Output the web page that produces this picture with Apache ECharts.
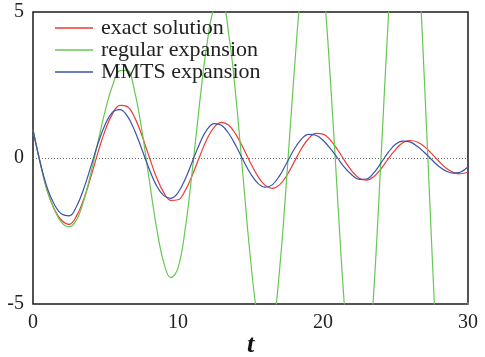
<!DOCTYPE html>
<html>
<head>
<meta charset="utf-8">
<script src="https://cdn.jsdelivr.net/npm/echarts@6/dist/echarts.min.js"></script>
<style>
  html, body { margin: 0; padding: 0; background: #fff; }
  #chart { width: 485px; height: 357px; }
</style>
</head>
<body>
<div id="chart"></div>
<script>
// sample times
const tValues = [
  0, 0.5, 1, 1.5, 2, 2.5, 3, 3.5, 4, 4.5,
  5, 5.5, 6, 6.5, 7, 7.5, 8, 8.5, 9, 9.5,
  10, 10.5, 11, 11.5, 12, 12.5, 13, 13.5, 14, 14.5,
  15, 15.5, 16, 16.5, 17, 17.5, 18, 18.5, 19, 19.5,
  20, 20.5, 21, 21.5, 22, 22.5, 23, 23.5, 24, 24.5,
  25, 25.5, 26, 26.5, 27, 27.5, 28, 28.5, 29, 29.5,
  30
];

const exactSolution = [
  0.96, -0.17, -1.15, -1.78, -2.15, -2.27, -1.99, -1.41, -0.63, 0.22,
  0.98, 1.53, 1.80, 1.76, 1.40, 0.79, 0.06, -0.64, -1.17, -1.45,
  -1.43, -1.11, -0.57, 0.06, 0.65, 1.06, 1.22, 1.12, 0.80, 0.34,
  -0.17, -0.62, -0.93, -1.04, -0.92, -0.60, -0.15, 0.31, 0.66, 0.84,
  0.82, 0.62, 0.29, -0.10, -0.45, -0.69, -0.76, -0.64, -0.37, -0.03,
  0.29, 0.52, 0.60, 0.55, 0.39, 0.15, -0.12, -0.35, -0.50, -0.54,
  -0.48
];

// goes far off the plot; the parts outside are clipped by the grid
const regularExpansion = [
  0.96, -0.18, -1.15, -1.80, -2.22, -2.36, -2.12, -1.46, -0.50, 0.60,
  1.66, 2.50, 2.99, 3.00, 2.30, 0.97, -0.69, -2.32, -3.55, -4.10,
  -3.77, -2.42, -0.37, 1.92, 3.91, 5.15, 5.33, 4.23, 2.06, -0.72,
  -3.46, -5.52, -6.47, -5.95, -3.85, -0.66, 2.85, 5.88, 7.69, 7.84,
  6.07, 2.76, -1.33, -5.23, -8.00, -9.00, -7.83, -4.58, -0.03, 4.76,
  8.64, 10.71, 10.40, 7.47, 2.60, -3.03, -8.05, -11.28, -11.88, -9.60,
  -4.94
];

const mmtsExpansion = [
  0.96, -0.16, -1.05, -1.62, -1.93, -1.98, -1.66, -1.05, -0.28, 0.52,
  1.17, 1.58, 1.66, 1.44, 0.95, 0.31, -0.36, -0.93, -1.28, -1.38,
  -1.19, -0.72, -0.11, 0.50, 0.97, 1.18, 1.12, 0.84, 0.41, -0.08,
  -0.53, -0.86, -1.00, -0.92, -0.61, -0.17, 0.29, 0.64, 0.81, 0.78,
  0.61, 0.33, 0.00, -0.33, -0.58, -0.73, -0.72, -0.51, -0.17, 0.19,
  0.47, 0.58, 0.55, 0.40, 0.19, -0.06, -0.29, -0.45, -0.52, -0.48,
  -0.31
];

const seriesNames = ['exact solution', 'regular expansion', 'MMTS expansion'];
const seriesColors = ['#ec3b35', '#66c852', '#3853ad'];

const font = 'Liberation Serif';

const pairs = (values) => tValues.map((t, i) => [t, values[i]]);

const chart = echarts.init(document.getElementById('chart'), null, { renderer: 'canvas' });

const lineSeries = [exactSolution, regularExpansion, mmtsExpansion].map((values, i) => {
  const s = {
    name: seriesNames[i],
    type: 'line',
    data: pairs(values),
    smooth: 0.4,
    showSymbol: false,
    symbol: 'none',
    clip: true,
    lineStyle: { color: seriesColors[i], width: 1.2 },
    itemStyle: { color: seriesColors[i] },
    z: 3,
  };
  if (i === 0) {
    s.markLine = {
      silent: true,
      symbol: ['none', 'none'],
      label: { show: false },
      lineStyle: { color: '#666', type: [1, 2], width: 1 },
      data: [{ yAxis: 0 }],
      z: 1,
    };
  }
  return s;
});

chart.setOption({
  animation: false,
  grid: {
    left: 33,
    right: 17,
    top: 12,
    bottom: 53,
    outerBoundsMode: 'none',
    containLabel: false,
    show: true,
    borderColor: '#1a1a1a',
    borderWidth: 1.5,
  },
  legend: {
    orient: 'vertical',
    left: 50,
    top: 12,
    itemWidth: 38,
    itemHeight: 1.3,
    itemGap: 0,
    icon: 'rect',
    data: seriesNames,
    textStyle: {
      fontFamily: font,
      fontSize: 22,
      lineHeight: 21.5,
      color: '#222',
      padding: [0, 0, 0, 3],
    },
  },
  xAxis: {
    type: 'value',
    min: 0,
    max: 30,
    interval: 10,
    name: 't',
    nameLocation: 'middle',
    nameGap: 28,
    nameMoveOverlap: false,
    nameTextStyle: {
      fontFamily: font,
      fontSize: 26,
      fontStyle: 'italic',
      fontWeight: 'bold',
      color: '#111',
    },
    axisLine: { show: false },
    axisTick: { show: false },
    splitLine: { show: false },
    axisLabel: {
      fontFamily: font,
      fontSize: 20,
      color: '#222',
      margin: 9,
    },
  },
  yAxis: {
    type: 'value',
    min: -5,
    max: 5,
    interval: 5,
    axisLine: { show: false },
    axisTick: { show: false },
    splitLine: { show: false },
    axisLabel: {
      fontFamily: font,
      fontSize: 20,
      color: '#222',
      margin: 9,
    },
  },
  series: lineSeries,
});
</script>
</body>
</html>
